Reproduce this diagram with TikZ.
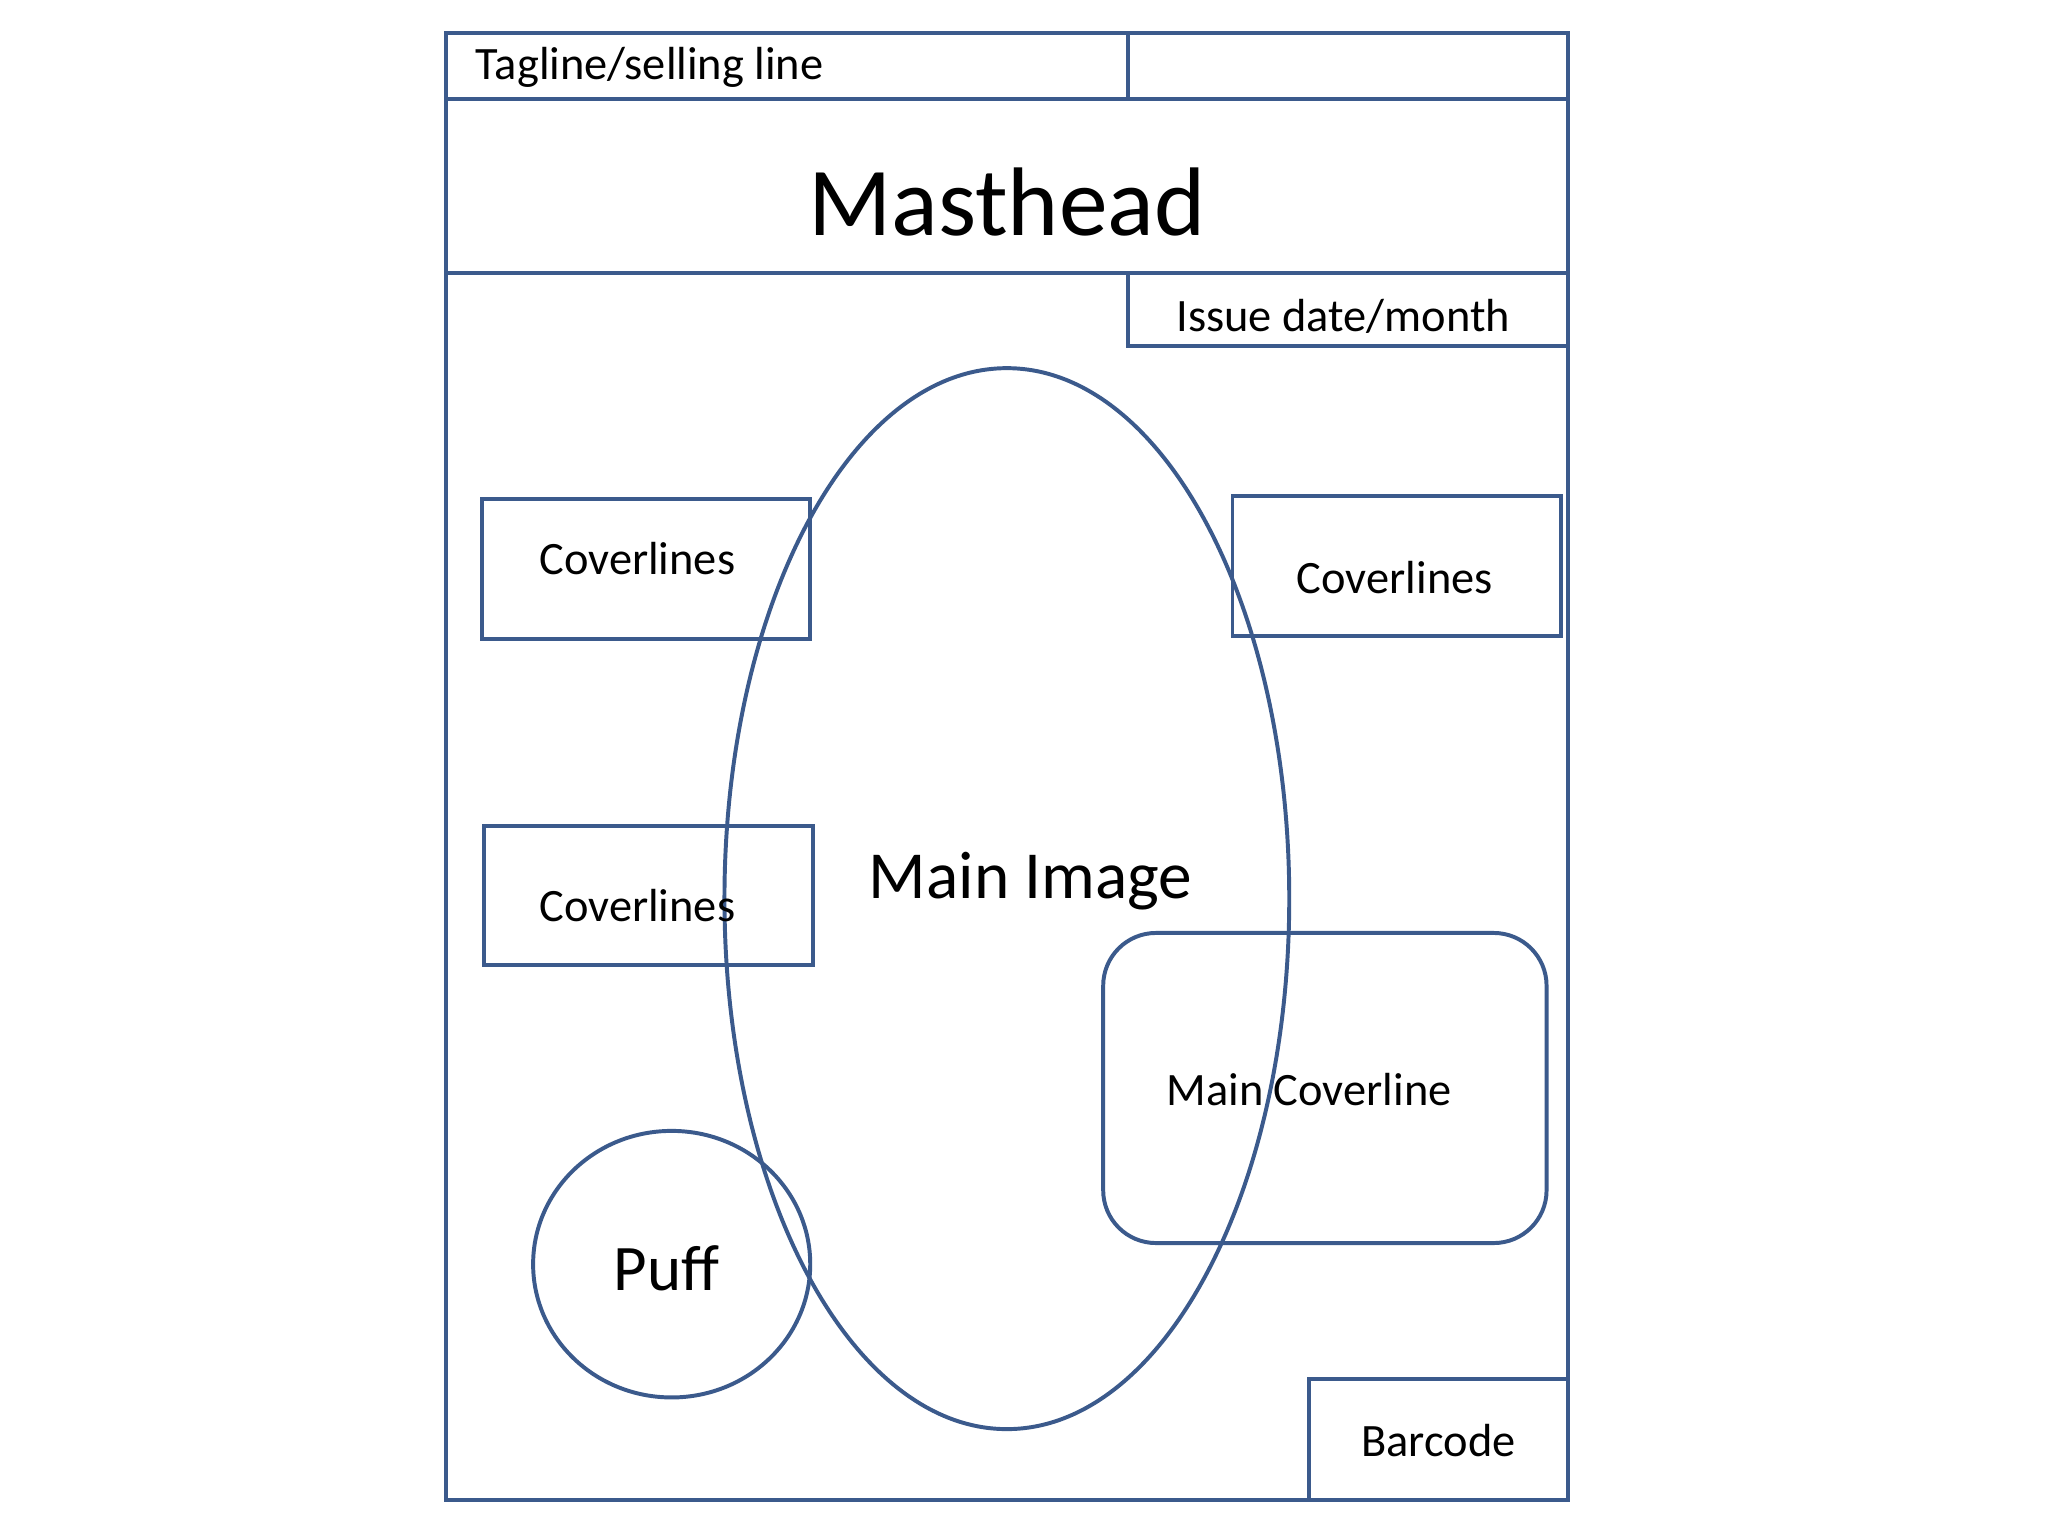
\documentclass[tikz,border=0pt]{standalone}
\usepackage{fontspec}
\setmainfont{Carlito}
\definecolor{ln}{RGB}{59,90,140}
\begin{document}
\begin{tikzpicture}[x=0.01cm,y=-0.01cm,
  box/.style={draw=ln,line width=0.85pt},
  lbl/.style={font=\fontsize{10}{12}\selectfont,inner sep=0pt}]
\useasboundingbox (0,0) rectangle (1552,1164);
\fill[white] (0,0) rectangle (1552,1164);
\draw[box] (338,25) rectangle (1188,1137);
\draw[box] (338,25) rectangle (855,75);
\draw[box] (855,25) rectangle (1188,75);
\draw[box] (338,75) rectangle (1188,207);
\draw[box] (855,207) rectangle (1188,262);
\draw[box] (763,681) ellipse [x radius=214, y radius=402];
\draw[box] (365,378) rectangle (614,484);
\draw[box] (934,376) rectangle (1183,482);
\draw[box] (367,626) rectangle (616,731);
\draw[box,rounded corners=0.4cm] (836,707) rectangle (1172,942);
\draw[box] (509,958) ellipse [x radius=105, y radius=101];
\draw[box] (992,1045) rectangle (1188,1137);
\node[lbl,anchor=west] (tag) at (360,51) {Tagline/selling line};
\node[lbl,font=\fontsize{21}{25}\selectfont] (mast) at (763,153) {Masthead};
\node[lbl] (issue) at (1018,240) {Issue date/month};
\node[lbl] (c1) at (483,423) {Coverlines};
\node[lbl] (c2) at (1057,438) {Coverlines};
\node[lbl] (c3) at (483,686) {Coverlines};
\node[lbl,font=\fontsize{14.5}{17}\selectfont] (mi) at (781,668) {Main Image};
\node[lbl] (mc) at (992,826) {Main Coverline};
\node[lbl,font=\fontsize{14}{17}\selectfont] (puff) at (505,961) {Puff};
\node[lbl] (bar) at (1090,1092) {Barcode};
\end{tikzpicture}
\end{document}
